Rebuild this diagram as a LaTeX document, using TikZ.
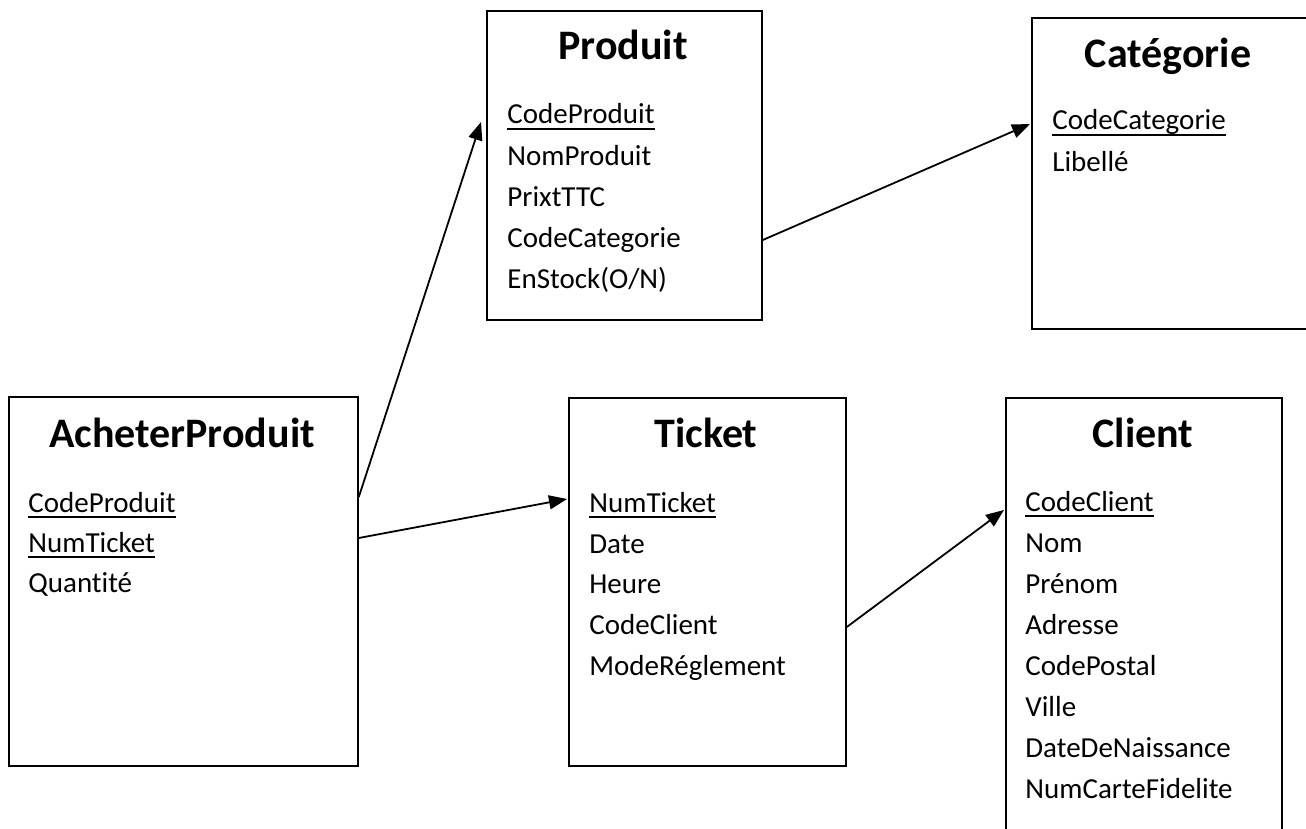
\documentclass[tikz,border=0pt]{standalone}
\usepackage{fontspec}
\setmainfont[Ligatures=NoCommon]{Carlito}
\usetikzlibrary{calc,arrows.meta}
\begin{document}
\begin{tikzpicture}[x=0.5pt,y=-0.5pt,
  box/.style={draw, line width=0.9pt, inner sep=0pt, anchor=north west},
  title/.style={font=\fontsize{21}{25}\selectfont\bfseries, inner sep=0pt, anchor=base},
  attr/.style={font=\fontsize{14.5}{17}\selectfont, inner sep=0pt, anchor=base west},
  uline/.style={line width=0.9pt},
  link/.style={line width=0.9pt, -{Triangle[length=9pt,width=7pt]}}]
\clip (0,0) rectangle (1306,829);
\fill[white] (0,0) rectangle (1306,829);
% boxes
\node[box, minimum width=174.5pt, minimum height=184.5pt] (ap) at (8,396) {};
\node[box, minimum width=137.5pt, minimum height=154.5pt] (prod) at (486,10) {};
\node[box, minimum width=138pt, minimum height=155.5pt] (cat) at (1031,17) {};
\node[box, minimum width=138.5pt, minimum height=184pt] (tick) at (568,397) {};
\node[box, minimum width=138pt, minimum height=220pt] (cli) at (1005,397) {};
% AcheterProduit
\node[title] (apt) at (182,447) {AcheterProduit};
\node[attr] (ap1) at (28,512) {CodeProduit};
\node[attr] (ap2) at (28,552) {NumTicket};
\node[attr] (ap3) at (28,592) {Quantité};
% Produit
\node[title] (prt) at (623,60) {Produit};
\node[attr] (pr1) at (507,124) {CodeProduit};
\node[attr] (pr2) at (507,165) {NomProduit};
\node[attr] (pr3) at (507,206) {PrixtTTC};
\node[attr] (pr4) at (507,247) {CodeCategorie};
\node[attr] (pr5) at (507,288) {EnStock(O/N)};
% Categorie
\node[title] (catt) at (1168,68) {Catégorie};
\node[attr] (cat1) at (1052,130) {CodeCategorie};
\node[attr] (cat2) at (1052,171) {Libellé};
% Ticket
\node[title] (tit) at (706,447) {Ticket};
\node[attr] (ti1) at (589,512) {NumTicket};
\node[attr] (ti2) at (589,553) {Date};
\node[attr] (ti3) at (589,593) {Heure};
\node[attr] (ti4) at (589,634) {CodeClient};
\node[attr] (ti5) at (589,675) {ModeRéglement};
% Client
\node[title] (clt) at (1143,447) {Client};
\node[attr] (cl1) at (1025,511) {CodeClient};
\node[attr] (cl2) at (1025,552) {Nom};
\node[attr] (cl3) at (1025,593) {Prénom};
\node[attr] (cl4) at (1025,634) {Adresse};
\node[attr] (cl5) at (1025,675) {CodePostal};
\node[attr] (cl6) at (1025,716) {Ville};
\node[attr] (cl7) at (1025,757) {DateDeNaissance};
\node[attr] (cl8) at (1025,798) {NumCarteFidelite};
% underlines of key attributes
\foreach \n in {ap1,ap2,pr1,cat1,ti1,cl1}
  \draw[uline] ($(\n.base west)+(0,5)$) -- ($(\n.base east)+(0,5)$);
% connectors
\draw[link] ($(ap.north east)+(0,101)$) -- ($(prod.north west)+(-5,112)$);
\draw[link] ($(ap.north east)+(0,142)$) -- ($(tick.north west)+(-1,102)$);
\draw[link] ($(prod.north east)+(0,230)$) -- ($(cat.north west)+(-1,107)$);
\draw[link] ($(tick.north east)+(0,230)$) -- ($(cli.north west)+(-1,113)$);
\end{tikzpicture}
\end{document}
